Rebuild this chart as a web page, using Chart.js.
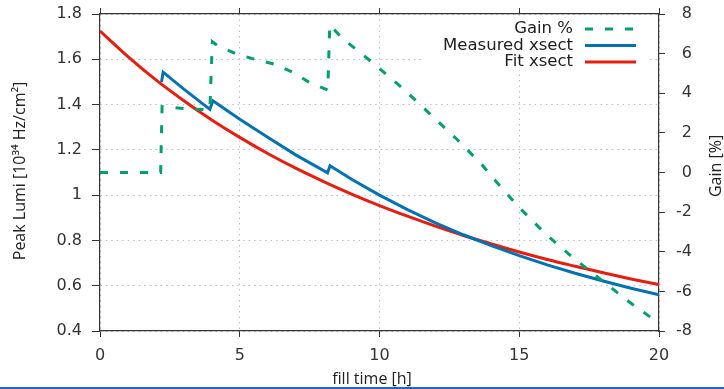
<!DOCTYPE html>
<html>
<head>
<meta charset="utf-8">
<script src="https://cdn.jsdelivr.net/npm/chart.js@4"></script>
<style>
  body { margin: 0; background: #fff; }
  #wrap { position: relative; width: 724px; height: 387px; }
  #bar { width: 724px; height: 2px; background: rgb(36, 100, 186); }
</style>
</head>
<body>
<div id="wrap"><canvas id="lumiChart" width="724" height="387"></canvas></div>
<div id="bar"></div>
<script>
// fit xsect (red), hours / 1e34 Hz/cm2
const fitTime = [0, 1, 2, 3, 4, 5, 6, 7, 8, 9, 10, 11, 12, 13, 14, 15, 16, 17, 18, 19, 20];
const fitLumi = [1.725, 1.612, 1.509, 1.417, 1.332, 1.255, 1.184, 1.119, 1.060, 1.005, 0.954,
                 0.907, 0.863, 0.822, 0.785, 0.749, 0.716, 0.686, 0.657, 0.630, 0.605];

// measured xsect (blue), with the steps after each refill
const measTime = [2.2, 2.26, 3, 3.93, 4.04, 5, 6, 7, 8.14, 8.23, 9, 10, 11, 12, 13, 14, 15, 16, 17, 18, 19, 20];
const measLumi = [1.50, 1.543, 1.468, 1.379, 1.417, 1.335, 1.256, 1.178, 1.099, 1.13, 1.070, 1.000,
                  0.936, 0.878, 0.825, 0.777, 0.733, 0.692, 0.655, 0.621, 0.589, 0.560];

// gain % (green dashed, right axis)
const gainTime = [0, 2.17, 2.22, 2.6, 3.3, 3.93, 4.02, 4.23, 4.9, 5.55, 6.26, 6.92, 7.51, 8.15, 8.22,
                  8.65, 9.78, 10.79, 11.81, 12.76, 13.66, 14.07, 14.97, 15.92, 16.88, 18.01, 19.08, 20];
const gainPct = [0, 0, 3.32, 3.28, 3.2, 3.17, 6.6, 6.38, 5.97, 5.71, 5.46, 5.04, 4.53, 4.16, 7.45,
                 6.8, 5.51, 4.30, 2.95, 1.69, 0.40, -0.29, -1.72, -3.07, -4.25, -5.51, -6.69, -7.6];

const xTicks = [0, 5, 10, 15, 20];
const seriesNames = ['Gain %', 'Measured xsect', 'Fit xsect'];
const seriesColors = ['rgb(0, 158, 115)', 'rgb(0, 114, 178)', 'rgb(229, 30, 16)'];

const tickFont = { family: 'DejaVu Sans', size: 16 };
const axisColor = '#333';
const gridColor = 'rgb(190, 190, 190)';

function toPoints(xs, ys) {
    return xs.map((x, i) => ({ x: x, y: ys[i] }));
}

// vertical axes: fixed width, and no extra room reserved above/below for labels
function fixVertical(width) {
    return s => {
        s.width = width;
        s.paddingTop = 0;
        s.paddingBottom = 0;
    };
}

// axis titles drawn by hand so they sit where gnuplot put them
const titlePlugin = {
    id: 'titles',
    afterDraw(chart) {
        const ctx = chart.ctx;
        ctx.save();
        ctx.fillStyle = '#222';
        ctx.font = '16px "Open Sans"';
        ctx.textAlign = 'center';
        ctx.textBaseline = 'middle';
        ctx.fillText('fill time [h]', 372, 379);

        ctx.translate(20, 171);
        ctx.rotate(-Math.PI / 2);
        ctx.fillText('Peak Lumi [10³⁴ Hz/cm²]', 0, 0);
        ctx.restore();

        ctx.save();
        ctx.fillStyle = '#222';
        ctx.font = '16px "Open Sans"';
        ctx.textAlign = 'center';
        ctx.textBaseline = 'middle';
        ctx.translate(716, 166);
        ctx.rotate(-Math.PI / 2);
        ctx.fillText('Gain [%]', 0, 0);
        ctx.restore();
    }
};

// key in the top right corner, text right aligned, sample to the right
const keyPlugin = {
    id: 'key',
    afterDraw(chart) {
        const ctx = chart.ctx;
        const top = chart.chartArea.top;
        ctx.save();
        ctx.fillStyle = '#fff';
        ctx.fillRect(424, top + 2, 224, 54);
        ctx.font = '16.5px "DejaVu Sans"';
        ctx.textAlign = 'right';
        ctx.textBaseline = 'middle';
        seriesNames.forEach((name, i) => {
            const y = 29 + i * 16.5;
            ctx.fillStyle = '#222';
            ctx.fillText(name, 573, y);
            ctx.strokeStyle = seriesColors[i];
            ctx.lineWidth = 3;
            ctx.setLineDash(i === 0 ? [8, 12] : []);
            ctx.beginPath();
            ctx.moveTo(585, y);
            ctx.lineTo(636, y);
            ctx.stroke();
        });
        ctx.restore();
    }
};

new Chart(document.getElementById('lumiChart'), {
    type: 'line',
    data: {
        datasets: [
            {
                label: seriesNames[0],
                data: toPoints(gainTime, gainPct),
                yAxisID: 'y1',
                borderColor: seriesColors[0],
                borderWidth: 3,
                borderDash: [8, 12],
                pointRadius: 0,
                tension: 0
            },
            {
                label: seriesNames[1],
                data: toPoints(measTime, measLumi),
                yAxisID: 'y',
                borderColor: seriesColors[1],
                borderWidth: 3,
                pointRadius: 0,
                tension: 0
            },
            {
                label: seriesNames[2],
                data: toPoints(fitTime, fitLumi),
                yAxisID: 'y',
                borderColor: seriesColors[2],
                borderWidth: 3,
                pointRadius: 0,
                cubicInterpolationMode: 'monotone'
            }
        ]
    },
    options: {
        responsive: false,
        animation: false,
        layout: { padding: { top: 0, left: 0, right: 32, bottom: 0 } },
        plugins: {
            legend: { display: false },
            tooltip: { enabled: false }
        },
        scales: {
            x: {
                type: 'linear',
                position: 'bottom',
                min: 0,
                max: 20,
                afterBuildTicks: s => { s.ticks = xTicks.map(v => ({ value: v })); },
                afterFit: s => { s.height = 56; },
                ticks: { font: tickFont, color: axisColor, padding: 9, maxRotation: 0 },
                grid: { color: gridColor, tickColor: axisColor, tickLength: 6, lineWidth: 1 },
                border: { color: axisColor, width: 1.2, dash: [1.5, 4] }
            },
            xt: {
                type: 'linear',
                position: 'top',
                min: 0,
                max: 20,
                afterBuildTicks: s => { s.ticks = xTicks.map(v => ({ value: v })); },
                afterFit: s => { s.height = 14; },
                ticks: { display: false },
                grid: { drawOnChartArea: false, tickColor: axisColor, tickLength: 6 },
                border: { color: axisColor, width: 1.2 }
            },
            y: {
                position: 'left',
                min: 0.4,
                max: 1.8,
                afterFit: fixVertical(100),
                ticks: {
                    stepSize: 0.2,
                    font: tickFont,
                    color: axisColor,
                    padding: 10,
                    callback: v => String(Math.round(v * 10) / 10)
                },
                grid: { color: gridColor, tickColor: axisColor, tickLength: 8, lineWidth: 1 },
                border: { color: axisColor, width: 1.2, dash: [1.5, 4] }
            },
            y1: {
                position: 'right',
                min: -8,
                max: 8,
                afterFit: fixVertical(33),
                ticks: { stepSize: 2, font: tickFont, color: axisColor, crossAlign: 'far' },
                grid: { drawOnChartArea: false, tickColor: axisColor, tickLength: 6 },
                border: { color: axisColor, width: 1.2 }
            }
        }
    },
    plugins: [titlePlugin, keyPlugin]
});
</script>
</body>
</html>
